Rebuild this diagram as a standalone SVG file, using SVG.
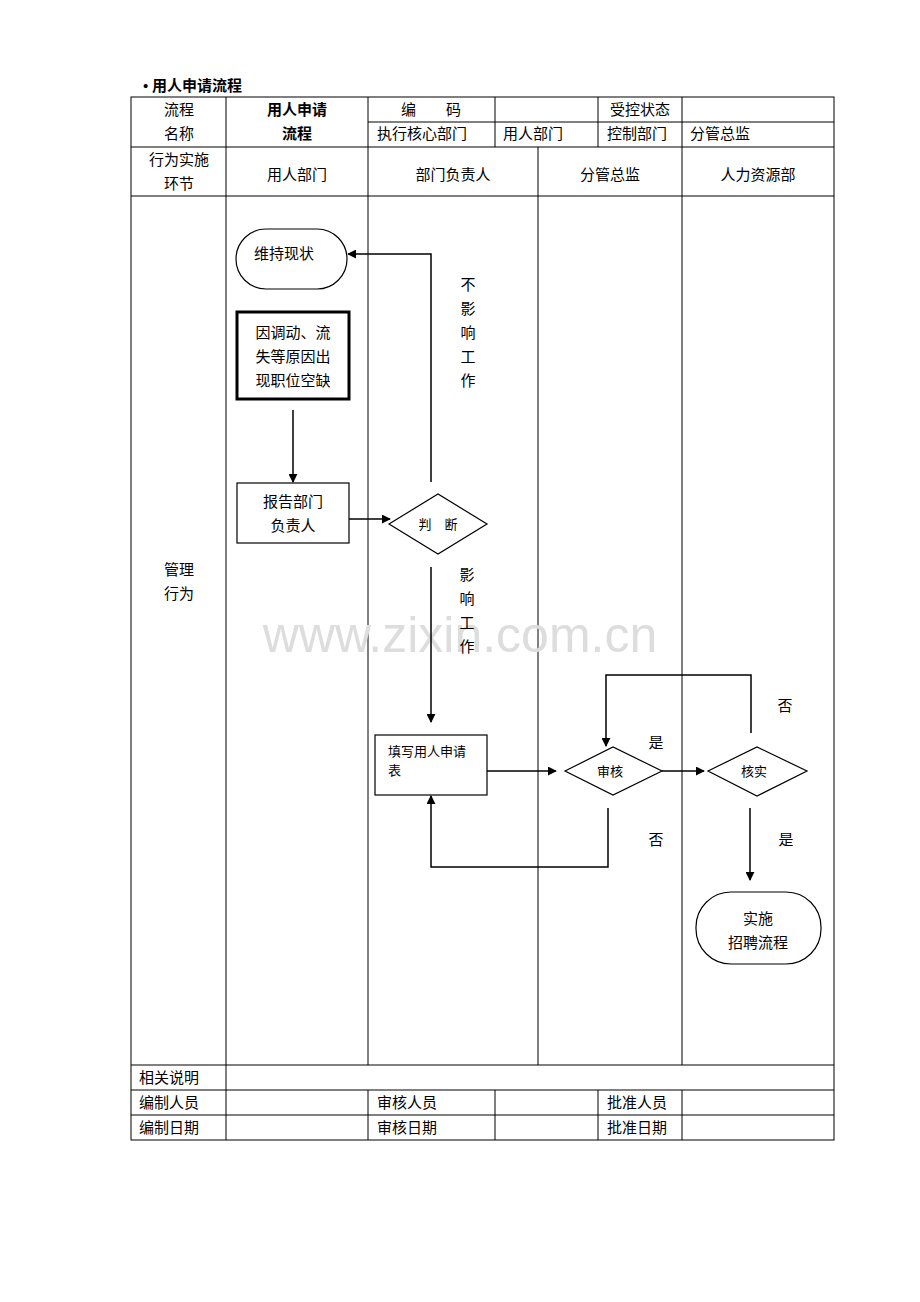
<svg xmlns="http://www.w3.org/2000/svg" width="920" height="1302" viewBox="0 0 920 1302">
<style>
text{font-family:"Liberation Serif","Noto Sans CJK SC",serif;font-size:15px;fill:#000}
.c{text-anchor:middle}
.b{font-weight:bold}
.g line{stroke:#000;stroke-width:1}
.n{fill:#fff;stroke:#000;stroke-width:1.2}
.e{stroke:#000;stroke-width:1.5;fill:none}
.s{font-size:13px}
</style>
<defs><marker id="a" viewBox="0 0 10 10" refX="9" refY="5" markerWidth="6" markerHeight="6" orient="auto"><path d="M0,0L10,5L0,10z" fill="#000"/></marker></defs>
<rect width="920" height="1302" fill="#fff"/>
<text x="143" y="91" class="b">• 用人申请流程</text>
<g id="table" class="g">
<rect x="131" y="97" width="703" height="1043" fill="none" stroke="#000"/>
<line x1="368" y1="122" x2="834" y2="122"/>
<line x1="131" y1="147" x2="834" y2="147"/>
<line x1="131" y1="196" x2="834" y2="196"/>
<line x1="131" y1="1065" x2="834" y2="1065"/>
<line x1="131" y1="1090" x2="834" y2="1090"/>
<line x1="131" y1="1115" x2="834" y2="1115"/>
<line x1="226" y1="97" x2="226" y2="1140"/>
<line x1="368" y1="97" x2="368" y2="1065"/>
<line x1="368" y1="1090" x2="368" y2="1140"/>
<line x1="495" y1="97" x2="495" y2="147"/>
<line x1="495" y1="1090" x2="495" y2="1140"/>
<line x1="598" y1="97" x2="598" y2="147"/>
<line x1="598" y1="1090" x2="598" y2="1140"/>
<line x1="682" y1="97" x2="682" y2="1065"/>
<line x1="682" y1="1090" x2="682" y2="1140"/>
<line x1="538" y1="147" x2="538" y2="1065"/>
</g>
<g id="labels">
<text x="179" y="115" class="c">流程</text><text x="179" y="139" class="c">名称</text>
<text x="297" y="115" class="c b">用人申请</text><text x="297" y="139" class="c b">流程</text>
<text x="431" y="115" class="c">编　　码</text><text x="640" y="115" class="c">受控状态</text>
<text x="377" y="139">执行核心部门</text><text x="503" y="139">用人部门</text><text x="607" y="139">控制部门</text><text x="690" y="139">分管总监</text>
<text x="179" y="165" class="c">行为实施</text><text x="179" y="189" class="c">环节</text>
<text x="297" y="180" class="c">用人部门</text><text x="453" y="180" class="c">部门负责人</text><text x="610" y="180" class="c">分管总监</text><text x="758" y="180" class="c">人力资源部</text>
<text x="179" y="575" class="c">管理</text><text x="179" y="599" class="c">行为</text>
<text x="139" y="1083">相关说明</text>
<text x="139" y="1108">编制人员</text><text x="377" y="1108">审核人员</text><text x="607" y="1108">批准人员</text>
<text x="139" y="1133">编制日期</text><text x="377" y="1133">审核日期</text><text x="607" y="1133">批准日期</text>
</g>
<text x="460" y="652" class="c" style="font-family:'Liberation Sans',sans-serif;font-size:50px;fill:#ddd">www.zixin.com.cn</text>
<g id="edges">
<path class="e" d="M293,410V482" marker-end="url(#a)"/>
<path class="e" d="M349,519H390" marker-end="url(#a)"/>
<path class="e" d="M431,482V254H348" marker-end="url(#a)"/>
<path class="e" d="M431,567V722" marker-end="url(#a)"/>
<path class="e" d="M487,771H556" marker-end="url(#a)"/>
<path class="e" d="M662,771H704" marker-end="url(#a)"/>
<path class="e" d="M751,733V675H606V746" marker-end="url(#a)"/>
<path class="e" d="M608,808V867H431V796" marker-end="url(#a)"/>
<path class="e" d="M750,808V880" marker-end="url(#a)"/>
<text x="468" y="290" class="c">不</text><text x="468" y="314" class="c">影</text><text x="468" y="338" class="c">响</text><text x="468" y="362" class="c">工</text><text x="468" y="386" class="c">作</text>
<text x="467" y="580" class="c">影</text><text x="467" y="604" class="c">响</text><text x="467" y="628" class="c">工</text><text x="467" y="652" class="c">作</text>
<text x="785" y="711" class="c">否</text><text x="656" y="748" class="c">是</text><text x="656" y="845" class="c">否</text><text x="786" y="845" class="c">是</text>
</g>
<g id="n1"><rect class="n" x="236" y="229" width="111" height="60" rx="30"/><text x="284" y="259" class="c">维持现状</text></g>
<g id="n2"><rect x="237" y="312" width="112" height="87" fill="#fff" stroke="#000" stroke-width="3"/><text x="293" y="338" class="c">因调动、流</text><text x="293" y="362" class="c">失等原因出</text><text x="293" y="386" class="c">现职位空缺</text></g>
<g id="n3"><rect class="n" x="237" y="483" width="112" height="60"/><text x="293" y="507" class="c">报告部门</text><text x="293" y="531" class="c">负责人</text></g>
<g id="n4"><polygon class="n" points="389,524 438,494 487,524 438,554"/><text x="438" y="529" class="c s">判　断</text></g>
<g id="n5"><rect class="n" x="375" y="735" width="112" height="60"/><text x="388" y="756" class="s">填写用人申请</text><text x="388" y="775" class="s">表</text></g>
<g id="n6"><polygon class="n" points="565,771 613,747 662,771 613,795"/><text x="610" y="776" class="c s">审核</text></g>
<g id="n7"><polygon class="n" points="708,771 757,747 807,771 757,796"/><text x="754" y="776" class="c s">核实</text></g>
<g id="n8"><rect class="n" x="696" y="892" width="125" height="72" rx="35"/><text x="758" y="924" class="c">实施</text><text x="758" y="948" class="c">招聘流程</text></g>
</svg>
